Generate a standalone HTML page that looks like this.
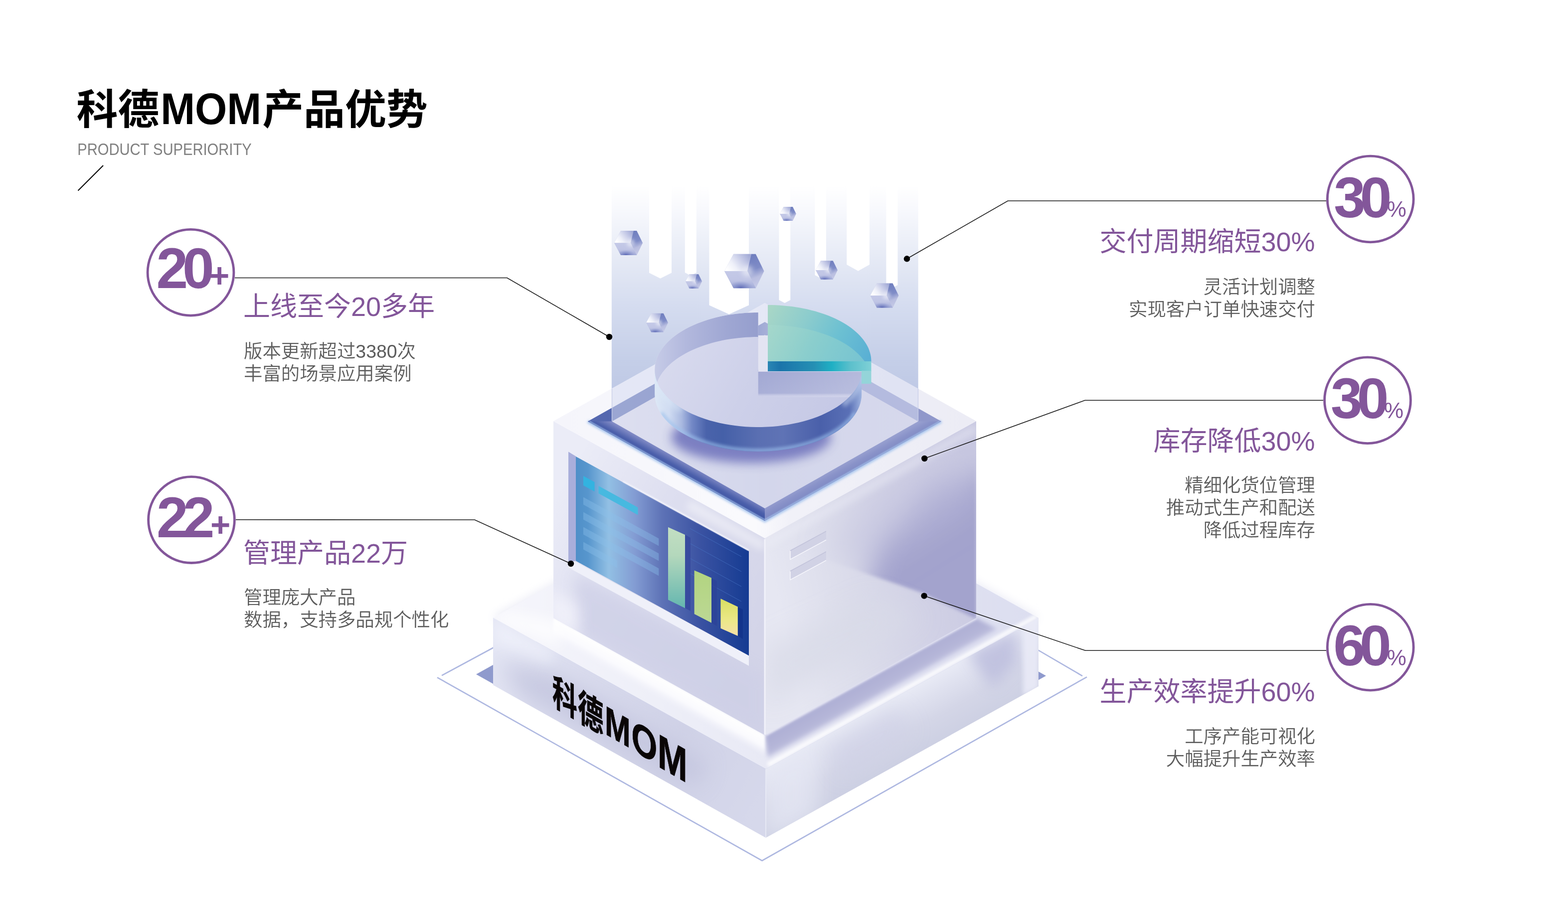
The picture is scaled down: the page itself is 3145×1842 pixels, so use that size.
<!DOCTYPE html>
<html lang="zh-CN">
<head>
<meta charset="utf-8">
<title>科德MOM产品优势</title>
<style>
html,body{margin:0;padding:0;background:#fff;}
body{width:3145px;height:1842px;overflow:hidden;font-family:"Liberation Sans","Noto Sans CJK SC",sans-serif;}
svg{display:block;position:absolute;left:0;top:0;will-change:transform;}
svg text{font-family:"Liberation Sans","Noto Sans CJK SC",sans-serif;}
</style>
</head>
<body>
<svg width="3145" height="1842" viewBox="0 0 3145 1842">
<defs><filter id="b1" x="-60%" y="-60%" width="220%" height="220%"><feGaussianBlur stdDeviation="1"/></filter><filter id="b2" x="-60%" y="-60%" width="220%" height="220%"><feGaussianBlur stdDeviation="2"/></filter><filter id="b3" x="-60%" y="-60%" width="220%" height="220%"><feGaussianBlur stdDeviation="3"/></filter><filter id="b4" x="-60%" y="-60%" width="220%" height="220%"><feGaussianBlur stdDeviation="4"/></filter><filter id="b6" x="-60%" y="-60%" width="220%" height="220%"><feGaussianBlur stdDeviation="6"/></filter><filter id="b8" x="-60%" y="-60%" width="220%" height="220%"><feGaussianBlur stdDeviation="8"/></filter><filter id="b10" x="-60%" y="-60%" width="220%" height="220%"><feGaussianBlur stdDeviation="10"/></filter><filter id="b14" x="-60%" y="-60%" width="220%" height="220%"><feGaussianBlur stdDeviation="14"/></filter><filter id="b20" x="-60%" y="-60%" width="220%" height="220%"><feGaussianBlur stdDeviation="20"/></filter><filter id="b25" x="-60%" y="-60%" width="220%" height="220%"><feGaussianBlur stdDeviation="25"/></filter><filter id="b35" x="-60%" y="-60%" width="220%" height="220%"><feGaussianBlur stdDeviation="35"/></filter><linearGradient id="gBaseTop" gradientUnits="userSpaceOnUse" x1="989" y1="1239" x2="2083" y2="1240"><stop offset="0" stop-color="#f6f6fc"/><stop offset="0.3" stop-color="#eeeff8"/><stop offset="0.7" stop-color="#e2e3f2"/><stop offset="1" stop-color="#dcdef0"/></linearGradient><clipPath id="cBaseTop"><polygon points="989.0,1239.5 1536.0,936.0 2083.0,1240.0 1536.0,1543.0"/></clipPath><linearGradient id="gShR" gradientUnits="userSpaceOnUse" x1="1746" y1="1357" x2="1774" y2="1407"><stop offset="0" stop-color="#adaed4"/><stop offset="0.55" stop-color="#b6b7d9"/><stop offset="1" stop-color="#d9daee"/></linearGradient><linearGradient id="gHiL" gradientUnits="userSpaceOnUse" x1="1322" y1="1357.5" x2="1303.6" y2="1390.7"><stop offset="0" stop-color="#ffffff" stop-opacity="1"/><stop offset="0.55" stop-color="#fbfbfe" stop-opacity="0.95"/><stop offset="1" stop-color="#f4f4fb" stop-opacity="0"/></linearGradient><linearGradient id="gBaseL" gradientUnits="userSpaceOnUse" x1="989" y1="1300" x2="1536" y2="1620"><stop offset="0" stop-color="#e4e6f4"/><stop offset="0.3" stop-color="#d9dbed"/><stop offset="0.65" stop-color="#d0d2e7"/><stop offset="1" stop-color="#d6d8eb"/></linearGradient><clipPath id="cBaseL"><polygon points="989.0,1239.5 1536.0,1543.0 1536.0,1681.0 989.0,1374.5"/></clipPath><linearGradient id="gBaseR" gradientUnits="userSpaceOnUse" x1="1800" y1="1397" x2="1858.5" y2="1502.6"><stop offset="0" stop-color="#e8eaf5"/><stop offset="0.25" stop-color="#dfe1ef"/><stop offset="0.6" stop-color="#d4d6e7"/><stop offset="1" stop-color="#cdd0e3"/></linearGradient><clipPath id="cBaseR"><polygon points="1536.0,1543.0 2083.0,1240.0 2083.0,1377.0 1536.0,1681.0"/></clipPath><linearGradient id="gBoxL" gradientUnits="userSpaceOnUse" x1="1110" y1="1000" x2="1534" y2="1250"><stop offset="0" stop-color="#ebecf7"/><stop offset="0.4" stop-color="#dedff0"/><stop offset="1" stop-color="#d3d4e8"/></linearGradient><clipPath id="cBoxL"><polygon points="1110.0,845.0 1534.0,1080.0 1534.0,1475.0 1110.0,1240.0"/></clipPath><linearGradient id="gBoxR" gradientUnits="userSpaceOnUse" x1="1534" y1="1100" x2="1958" y2="1000"><stop offset="0" stop-color="#e6e7f2"/><stop offset="0.3" stop-color="#dcddeb"/><stop offset="0.7" stop-color="#d0d0e5"/><stop offset="1" stop-color="#c8c8e1"/></linearGradient><clipPath id="cBoxR"><polygon points="1534.0,1080.0 1958.0,845.0 1958.0,1240.0 1534.0,1475.0"/></clipPath><clipPath id="cWedge"><polygon points="1534.0,1040.0 1958.0,805.0 1958.0,1242.0 1851.0,1190.0 1656.0,1123.0 1534.0,1098.0"/></clipPath><linearGradient id="gScr" gradientUnits="userSpaceOnUse" x1="1155" y1="0" x2="1502" y2="0"><stop offset="0" stop-color="#4f8fc8"/><stop offset="0.07" stop-color="#5796cd"/><stop offset="0.19" stop-color="#92c0e4"/><stop offset="0.34" stop-color="#839cd3"/><stop offset="0.5" stop-color="#5d72b6"/><stop offset="0.72" stop-color="#3a52a2"/><stop offset="1" stop-color="#153b92"/></linearGradient><linearGradient id="gBar1" gradientUnits="userSpaceOnUse" x1="0" y1="1060" x2="0" y2="1215"><stop offset="0" stop-color="#c2dec2"/><stop offset="0.35" stop-color="#b4d8bc"/><stop offset="1" stop-color="#68b8b0"/></linearGradient><linearGradient id="gBar2" gradientUnits="userSpaceOnUse" x1="0" y1="1145" x2="0" y2="1250"><stop offset="0" stop-color="#b2d480"/><stop offset="1" stop-color="#bcd894"/></linearGradient><linearGradient id="gBar3" gradientUnits="userSpaceOnUse" x1="0" y1="1200" x2="0" y2="1276"><stop offset="0" stop-color="#d8de60"/><stop offset="0.6" stop-color="#ece888"/><stop offset="1" stop-color="#f4e0a8"/></linearGradient><linearGradient id="gBeam" gradientUnits="userSpaceOnUse" x1="0" y1="372" x2="0" y2="792"><stop offset="0" stop-color="#ffffff"/><stop offset="0.11" stop-color="#f8f9fd"/><stop offset="0.24" stop-color="#eef1f9"/><stop offset="0.4" stop-color="#e2e7f4"/><stop offset="0.56" stop-color="#d6ddf0"/><stop offset="0.83" stop-color="#c5cfe8"/><stop offset="1" stop-color="#bec8e5"/></linearGradient><linearGradient id="gTop" gradientUnits="userSpaceOnUse" x1="1110" y1="845" x2="1958" y2="845"><stop offset="0" stop-color="#f5f5fb"/><stop offset="0.48" stop-color="#fafafd"/><stop offset="0.56" stop-color="#f1f1f8"/><stop offset="1" stop-color="#ececf5"/></linearGradient><clipPath id="cTopFace"><polygon points="1110.0,845.0 1534.0,608.0 1958.0,845.0 1534.0,1080.0"/></clipPath><linearGradient id="gRim" gradientUnits="userSpaceOnUse" x1="1179" y1="845" x2="1888" y2="845"><stop offset="0" stop-color="#5669b0"/><stop offset="0.46" stop-color="#4a5da9"/><stop offset="0.54" stop-color="#8890c6"/><stop offset="1" stop-color="#9098cb"/></linearGradient><linearGradient id="gRimFL" gradientUnits="userSpaceOnUse" x1="1356" y1="945" x2="1368" y2="923"><stop offset="0" stop-color="#3f55a4"/><stop offset="0.35" stop-color="#4c60ab"/><stop offset="1" stop-color="#848dc7"/></linearGradient><linearGradient id="gRimFR" gradientUnits="userSpaceOnUse" x1="1711" y1="945" x2="1699" y2="923"><stop offset="0" stop-color="#7f8ac4"/><stop offset="0.5" stop-color="#8a93c9"/><stop offset="1" stop-color="#9aa2d1"/></linearGradient><linearGradient id="gFloor" gradientUnits="userSpaceOnUse" x1="1227" y1="845" x2="1841" y2="845"><stop offset="0" stop-color="#dddff0"/><stop offset="0.5" stop-color="#d3d6eb"/><stop offset="1" stop-color="#d6d8ec"/></linearGradient><clipPath id="cFloor"><polygon points="1227.5,845.5 1534.0,672.0 1841.5,845.5 1534.0,1020.0"/></clipPath><linearGradient id="gWall" gradientUnits="userSpaceOnUse" x1="1313.25" y1="0" x2="1728.25" y2="0"><stop offset="0" stop-color="#dde8f6"/><stop offset="0.07" stop-color="#d0dcf2"/><stop offset="0.13" stop-color="#a9b9e0"/><stop offset="0.18" stop-color="#7388c6"/><stop offset="0.25" stop-color="#4a63ab"/><stop offset="0.33" stop-color="#4560a8"/><stop offset="0.5" stop-color="#5a6fb2"/><stop offset="0.62" stop-color="#5f73b5"/><stop offset="0.8" stop-color="#4a60aa"/><stop offset="0.94" stop-color="#5a70b6"/><stop offset="1" stop-color="#9fb4e0"/></linearGradient><clipPath id="cWall"><path d="M1313.2,742.0 L1313.2,791.0 L1313.5,797.0 L1314.4,803.0 L1315.8,809.0 L1317.8,814.9 L1320.3,820.8 L1323.4,826.5 L1327.0,832.2 L1331.2,837.8 L1335.9,843.2 L1341.0,848.5 L1346.7,853.6 L1352.9,858.6 L1359.5,863.4 L1366.5,868.0 L1374.0,872.3 L1381.9,876.5 L1390.2,880.4 L1398.8,884.0 L1407.7,887.4 L1417.0,890.6 L1426.5,893.5 L1436.4,896.1 L1446.4,898.4 L1456.6,900.4 L1467.0,902.1 L1477.6,903.5 L1488.3,904.6 L1499.1,905.4 L1509.9,905.8 L1520.8,906.0 L1531.6,905.8 L1542.4,905.4 L1553.2,904.6 L1563.9,903.5 L1574.5,902.1 L1584.9,900.4 L1595.1,898.4 L1605.1,896.1 L1615.0,893.5 L1624.5,890.6 L1633.8,887.4 L1642.7,884.0 L1651.3,880.4 L1659.6,876.5 L1667.5,872.3 L1675.0,868.0 L1682.0,863.4 L1688.6,858.6 L1694.8,853.6 L1700.5,848.5 L1705.6,843.2 L1710.3,837.8 L1714.5,832.2 L1718.1,826.5 L1721.2,820.8 L1723.7,814.9 L1725.7,809.0 L1727.1,803.0 L1728.0,797.0 L1728.2,791.0 L1728.2,742.0Z"/></clipPath><linearGradient id="gPieTop" gradientUnits="userSpaceOnUse" x1="1313.25" y1="627" x2="1728.25" y2="857"><stop offset="0" stop-color="#dcdef0"/><stop offset="0.5" stop-color="#cdd0e9"/><stop offset="1" stop-color="#c3c6e4"/></linearGradient><clipPath id="cPieTop"><path d="M1520.8,745.0 L1728.0,745.0 L1728.2,745.0 L1727.6,751.0 L1726.5,756.9 L1724.8,762.9 L1722.6,768.7 L1719.8,774.5 L1716.5,780.2 L1712.6,785.8 L1708.2,791.3 L1703.4,796.6 L1698.0,801.8 L1692.1,806.8 L1685.8,811.7 L1679.0,816.4 L1671.8,820.8 L1664.2,825.1 L1656.2,829.1 L1647.9,832.9 L1639.2,836.4 L1630.1,839.7 L1620.8,842.7 L1611.2,845.5 L1601.4,848.0 L1591.3,850.1 L1581.1,852.0 L1570.7,853.6 L1560.1,854.9 L1549.4,855.9 L1538.7,856.6 L1527.9,856.9 L1517.1,857.0 L1506.3,856.7 L1495.6,856.2 L1484.9,855.3 L1474.3,854.1 L1463.8,852.6 L1453.5,850.8 L1443.4,848.7 L1433.5,846.3 L1423.8,843.7 L1414.4,840.7 L1405.3,837.5 L1396.5,834.1 L1388.0,830.4 L1379.9,826.4 L1372.1,822.2 L1364.8,817.8 L1357.9,813.2 L1351.4,808.5 L1345.4,803.5 L1339.9,798.3 L1334.8,793.0 L1330.3,787.6 L1326.2,782.1 L1322.7,776.4 L1319.8,770.6 L1317.4,764.8 L1315.5,758.9 L1314.2,753.0 L1313.4,747.0 L1313.3,741.0 L1313.6,735.0 L1314.6,729.0 L1316.1,723.1 L1318.1,717.2 L1320.7,711.4 L1323.9,705.7 L1327.5,700.1 L1331.7,694.6 L1336.4,689.2 L1341.7,683.9 L1347.4,678.8 L1353.5,673.9 L1360.1,669.2 L1367.2,664.7 L1374.7,660.3 L1382.5,656.2 L1390.8,652.4 L1399.4,648.7 L1408.3,645.4 L1417.5,642.2 L1427.0,639.4 L1436.8,636.8 L1446.8,634.6 L1457.0,632.6 L1467.3,630.9 L1477.8,629.5 L1488.5,628.4 L1499.2,627.6 L1510.0,627.2 L1520.8,627.0Z"/></clipPath><linearGradient id="gBand" gradientUnits="userSpaceOnUse" x1="1313.25" y1="0" x2="1520.75" y2="0"><stop offset="0" stop-color="#c6cbe7"/><stop offset="0.3" stop-color="#b2b8dd"/><stop offset="0.7" stop-color="#9fa7d3"/><stop offset="1" stop-color="#959ecd"/></linearGradient><linearGradient id="gCut" gradientUnits="userSpaceOnUse" x1="0" y1="745" x2="0" y2="795"><stop offset="0" stop-color="#a2a8d3"/><stop offset="0.88" stop-color="#a9afd7"/><stop offset="1" stop-color="#b8bcde" stop-opacity="0"/></linearGradient><linearGradient id="gCutX" gradientUnits="userSpaceOnUse" x1="1520.75" y1="0" x2="1728.25" y2="0"><stop offset="0" stop-color="#ffffff" stop-opacity="0"/><stop offset="1" stop-color="#ffffff" stop-opacity="0.2"/></linearGradient><linearGradient id="gTealFront" gradientUnits="userSpaceOnUse" x1="1540" y1="0" x2="1747.5" y2="0"><stop offset="0" stop-color="#2a86b4"/><stop offset="0.12" stop-color="#1b74aa"/><stop offset="0.45" stop-color="#2590b4"/><stop offset="0.62" stop-color="#1fb0c4"/><stop offset="0.8" stop-color="#5cc0cc"/><stop offset="1" stop-color="#7fd0d6"/></linearGradient><linearGradient id="gTealTop" gradientUnits="userSpaceOnUse" x1="1540" y1="612" x2="1747.5" y2="725"><stop offset="0" stop-color="#aad7c6"/><stop offset="0.35" stop-color="#8ccccd"/><stop offset="0.65" stop-color="#6cc0d2"/><stop offset="1" stop-color="#58aed4"/></linearGradient><linearGradient id="gTealIn" gradientUnits="userSpaceOnUse" x1="1540" y1="652" x2="1747.5" y2="765"><stop offset="0" stop-color="#a6d8cc"/><stop offset="0.4" stop-color="#8fd0cc"/><stop offset="1" stop-color="#7cc8d2"/></linearGradient><clipPath id="cTealTop"><path d="M1540.0,725.0 L1540.0,612.0 L1548.1,612.1 L1556.3,612.3 L1564.4,612.8 L1572.5,613.4 L1580.5,614.2 L1588.4,615.1 L1596.3,616.2 L1604.1,617.5 L1611.8,619.0 L1619.4,620.6 L1626.9,622.4 L1634.2,624.3 L1641.4,626.4 L1648.4,628.7 L1655.3,631.0 L1662.0,633.6 L1668.5,636.3 L1674.8,639.1 L1680.9,642.0 L1686.7,645.1 L1692.4,648.3 L1697.8,651.6 L1703.0,655.0 L1707.9,658.6 L1712.5,662.2 L1716.9,666.0 L1721.0,669.8 L1724.9,673.7 L1728.4,677.7 L1731.7,681.8 L1734.7,685.9 L1737.3,690.1 L1739.7,694.3 L1741.8,698.6 L1743.5,703.0 L1744.9,707.3 L1746.1,711.7 L1746.9,716.1 L1747.3,720.6 L1747.5,725.0Z"/></clipPath><linearGradient id="hTop" gradientUnits="objectBoundingBox" x1="0" y1="0.7" x2="1" y2="0.2"><stop offset="0" stop-color="#ffffff"/><stop offset="0.3" stop-color="#eef0f9"/><stop offset="0.7" stop-color="#c3c8e6"/><stop offset="1" stop-color="#a2aad6"/></linearGradient><linearGradient id="hRight" gradientUnits="objectBoundingBox" x1="0.3" y1="0" x2="0.5" y2="1"><stop offset="0" stop-color="#6f7ebe"/><stop offset="0.45" stop-color="#7f8cc7"/><stop offset="0.7" stop-color="#b9bee0"/><stop offset="1" stop-color="#c6cae7"/></linearGradient><linearGradient id="hBot" gradientUnits="objectBoundingBox" x1="0" y1="0" x2="0" y2="1"><stop offset="0" stop-color="#c4c9e7"/><stop offset="0.5" stop-color="#c0c5e5"/><stop offset="1" stop-color="#a3acd8"/></linearGradient><radialGradient id="hGlow" gradientUnits="objectBoundingBox" cx="0.52" cy="1.0" r="0.42"><stop offset="0" stop-color="#5663b2" stop-opacity="0.95"/><stop offset="0.5" stop-color="#6b78be" stop-opacity="0.5"/><stop offset="1" stop-color="#7d89c8" stop-opacity="0"/></radialGradient><g id="hex"><polygon points="-50,0 -27,-43 29,-43 50,0 29,43 -27,43" fill="#c4c9e6"/><polygon points="-50,0 -27,-43 18,-43 8,0" fill="url(#hTop)"/><polygon points="8,0 18,-43 29,-43 50,0 29,43" fill="url(#hRight)"/><polygon points="-50,0 8,0 29,43 -27,43" fill="url(#hBot)"/><polygon points="-50,0 8,0 29,43 -27,43" fill="url(#hGlow)"/><circle cx="8" cy="0" r="14" fill="#f4f5fb" opacity="0.55" filter="url(#b6)"/></g></defs>
<g id="illustration">
<polygon points="955.0,1353.0 1527.0,1035.0 2098.0,1356.0 1527.0,1674.0" fill="#8f9acd" />
<polyline points="877.0,1359.3 1528.5,1727.0 2180.0,1358.3" fill="none" stroke="#adb7e0" stroke-width="2.6"/>
<polyline points="886.0,1355.4 1010.0,1288.5" fill="none" stroke="#adb7e0" stroke-width="2.6"/>
<polyline points="2171.0,1356.3 2060.0,1291.5" fill="none" stroke="#adb7e0" stroke-width="2.6"/>
<polygon points="989.0,1239.5 1536.0,936.0 2083.0,1240.0 1536.0,1543.0" fill="#e4e5f3" filter="url(#b10)" opacity="0.9"/>
<polygon points="989.0,1239.5 1536.0,936.0 2083.0,1240.0 1536.0,1543.0" fill="url(#gBaseTop)" />
<g clip-path="url(#cBaseTop)"><polygon points="1534.0,1475.0 1958.0,1240.0 2000.0,1262.0 1540.0,1520.0" fill="url(#gShR)" filter="url(#b4)"/><line x1="1536" y1="1474" x2="1958" y2="1240" stroke="#f2f2fa" stroke-width="4" opacity="0.9" filter="url(#b2)"/><polygon points="1110.0,1240.0 1534.0,1475.0 1534.0,1521.0 1110.0,1286.0" fill="url(#gHiL)" filter="url(#b2)"/><polygon points="1000.0,1225.0 1125.0,1246.0 1125.0,1300.0 1000.0,1250.0" fill="#ffffff" filter="url(#b14)" opacity="0.7"/><line x1="1540" y1="1535" x2="2080" y2="1236" stroke="#ffffff" stroke-width="9" opacity="0.85" filter="url(#b3)"/></g>
<polygon points="989.0,1239.5 1536.0,1543.0 1536.0,1681.0 989.0,1374.5" fill="url(#gBaseL)" />
<g clip-path="url(#cBaseL)"><polygon points="1000.0,1330.0 1110.0,1350.0 1420.0,1530.0 1400.0,1580.0 1050.0,1400.0" fill="#c3c5de" filter="url(#b20)" opacity="0.8"/><polygon points="989.0,1240.0 1110.0,1306.0 1110.0,1330.0 989.0,1290.0" fill="#eef0fa" filter="url(#b14)" opacity="0.9"/></g>
<polygon points="1536.0,1543.0 2083.0,1240.0 2083.0,1377.0 1536.0,1681.0" fill="url(#gBaseR)" />
<g clip-path="url(#cBaseR)"><polygon points="1536.0,1545.0 1640.0,1490.0 1640.0,1640.0 1536.0,1690.0" fill="#e6e8f4" filter="url(#b20)" opacity="0.7"/><polygon points="1660.0,1500.0 1800.0,1420.0 1830.0,1470.0 1690.0,1560.0" fill="#cdcfe5" filter="url(#b20)" opacity="0.6"/><polygon points="1940.0,1310.0 2040.0,1262.0 2040.0,1330.0 1990.0,1380.0" fill="#babbdc" filter="url(#b14)" opacity="0.8"/><polygon points="2052.0,1250.0 2083.0,1234.0 2083.0,1380.0 2052.0,1396.0" fill="#e9eaf7" filter="url(#b4)" opacity="0.9"/></g>
<line x1="1536" y1="1543" x2="1536" y2="1681" stroke="#e8eaf6" stroke-width="2" opacity="0.9"/>
<polygon points="1110.0,845.0 1534.0,1080.0 1534.0,1475.0 1110.0,1240.0" fill="url(#gBoxL)" />
<g clip-path="url(#cBoxL)"><line x1="1380" y1="1012" x2="1534" y2="1097" stroke="#ffffff" stroke-width="18" opacity="0.45" filter="url(#b8)"/><polygon points="1155.0,1150.0 1534.0,1358.0 1534.0,1480.0 1155.0,1270.0" fill="#cdcfe6" filter="url(#b14)" opacity="0.75"/><polygon points="1100.0,1180.0 1160.0,1215.0 1160.0,1280.0 1100.0,1250.0" fill="#f3f3fb" filter="url(#b14)" opacity="0.8"/></g>
<polygon points="1534.0,1080.0 1958.0,845.0 1958.0,1240.0 1534.0,1475.0" fill="url(#gBoxR)" />
<g clip-path="url(#cBoxR)"><g filter="url(#b3)"><g clip-path="url(#cWedge)"><polygon points="2030.0,930.0 2030.0,1330.0 1900.0,1280.0 1735.0,1195.0 1760.0,1090.0 1870.0,980.0" fill="#a3a3cd" filter="url(#b25)"/><polygon points="1660.0,1100.0 1760.0,980.0 1960.0,900.0 1960.0,1000.0 1720.0,1150.0" fill="#c2c2de" filter="url(#b35)" opacity="0.55"/></g></g><line x1="1534" y1="1094" x2="1958" y2="859" stroke="#ecedf6" stroke-width="16" opacity="0.55" filter="url(#b8)"/><polygon points="1534.0,1300.0 1750.0,1200.0 1850.0,1240.0 1534.0,1420.0" fill="#d8dae7" filter="url(#b25)" opacity="0.7"/></g>
<line x1="1534" y1="1082" x2="1534" y2="1474" stroke="#f4f4fb" stroke-width="3" opacity="0.9"/>
<polygon points="1140.0,1119.8 1502.0,1315.5 1502.0,1336.0 1140.0,1138.8" fill="#eff0f9" />
<polygon points="1140.0,906.5 1155.0,915.5 1155.0,1125.5 1140.0,1128.0" fill="#a9aedb" />
<polygon points="1155.0,916.0 1502.0,1106.0 1502.0,1315.5 1155.0,1125.5" fill="url(#gScr)" />
<line x1="1250" y1="966.0" x2="1502" y2="1104.0" stroke="#f4f5fc" stroke-width="3" opacity="0.85" filter="url(#b1)"/>
<polygon points="1170.0,955.0 1192.5,967.3 1192.5,986.3 1170.0,974.0" fill="#33b3e0" />
<polygon points="1200.5,975.0 1279.5,1018.3 1279.5,1033.3 1200.5,990.0" fill="#47b9e0" />
<polygon points="1170.0,997.5 1321.3,1080.4 1321.3,1095.4 1170.0,1012.5" fill="#8cc0ea" opacity="0.38"/>
<polygon points="1170.0,1027.5 1321.3,1110.4 1321.3,1125.4 1170.0,1042.5" fill="#8cc0ea" opacity="0.38"/>
<polygon points="1170.0,1057.5 1321.3,1140.4 1321.3,1155.4 1170.0,1072.5" fill="#8cc0ea" opacity="0.38"/>
<polygon points="1170.0,1087.5 1238.0,1124.8 1238.0,1139.8 1170.0,1102.5" fill="#8cc0ea" opacity="0.38"/>
<line x1="1384" y1="1060.4" x2="1487" y2="1116.8" stroke="#4a78c8" stroke-width="1" opacity="0.6"/>
<line x1="1384" y1="1090.4" x2="1487" y2="1146.8" stroke="#4a78c8" stroke-width="1" opacity="0.6"/>
<line x1="1384" y1="1120.4" x2="1487" y2="1176.8" stroke="#4a78c8" stroke-width="1" opacity="0.6"/>
<line x1="1384" y1="1150.4" x2="1487" y2="1206.8" stroke="#4a78c8" stroke-width="1" opacity="0.6"/>
<polygon points="1374.0,1073.0 1385.0,1079.0 1385.0,1226.0 1374.0,1220.0" fill="#34479c" opacity="0.8"/>
<polygon points="1427.0,1160.0 1438.0,1166.0 1438.0,1256.0 1427.0,1250.0" fill="#2c4298" opacity="0.8"/>
<polygon points="1480.0,1218.0 1490.0,1223.0 1490.0,1282.0 1480.0,1276.0" fill="#12328a" opacity="0.8"/>
<polygon points="1340.0,1057.7 1374.0,1073.0 1374.0,1220.3 1340.0,1203.5" fill="url(#gBar1)" />
<polygon points="1392.6,1144.5 1427.0,1159.5 1427.0,1249.8 1392.6,1232.0" fill="url(#gBar2)" />
<polygon points="1445.4,1201.3 1479.8,1217.6 1479.8,1276.0 1445.4,1260.8" fill="url(#gBar3)" />
<polygon points="1585.0,1105.0 1657.0,1066.0 1657.0,1083.5 1585.0,1122.5" fill="#d1d2e5" />
<polyline points="1585.0,1105.0 1585.0,1122.5 1657.0,1083.5" fill="none" stroke="#f6f6fc" stroke-width="1.6"/>
<polyline points="1585.0,1105.0 1657.0,1066.0" fill="none" stroke="#c2c3da" stroke-width="1.6"/>
<polygon points="1585.0,1146.0 1657.0,1107.0 1657.0,1124.5 1585.0,1163.5" fill="#d1d2e5" />
<polyline points="1585.0,1146.0 1585.0,1163.5 1657.0,1124.5" fill="none" stroke="#f6f6fc" stroke-width="1.6"/>
<polyline points="1585.0,1146.0 1657.0,1107.0" fill="none" stroke="#c2c3da" stroke-width="1.6"/>
<rect x="1226.8" y="372" width="614.9" height="474" fill="url(#gBeam)"/>
<polygon points="1302.0,360.0 1347.0,360.0 1347.0,547.5 1324.5,558.8 1302.0,547.5" fill="#fff" />
<polygon points="1373.8,360.0 1396.8,360.0 1396.8,547.0 1385.3,553.0 1373.8,547.0" fill="#fff" />
<polygon points="1422.5,360.0 1502.0,360.0 1502.0,612.5 1462.2,630.5 1422.5,612.5" fill="#fff" />
<polygon points="1562.5,360.0 1585.3,360.0 1585.3,602.0 1573.9,608.0 1562.5,602.0" fill="#fff" />
<polygon points="1634.5,360.0 1657.0,360.0 1657.0,552.0 1645.8,558.0 1634.5,552.0" fill="#fff" />
<polygon points="1698.3,360.0 1744.0,360.0 1744.0,531.0 1721.2,543.8 1698.3,531.0" fill="#fff" />
<polygon points="1777.5,360.0 1800.5,360.0 1800.5,572.0 1789.0,578.0 1777.5,572.0" fill="#fff" />
<polygon points="1110.0,845.0 1534.0,608.0 1958.0,845.0 1534.0,1080.0" fill="url(#gTop)" />
<polyline points="1179.0,845.5 1534.0,1045.0 1888.0,845.5" fill="none" stroke="#a9c6ee" stroke-width="7" filter="url(#b2)" opacity="0.9"/>
<polygon points="1179.0,845.5 1534.0,646.0 1888.0,845.5 1534.0,1045.0" fill="url(#gRim)" />
<polygon points="1179.0,845.5 1534.0,1045.0 1534.0,1020.0 1227.5,845.5" fill="url(#gRimFL)" />
<polygon points="1534.0,1045.0 1888.0,845.5 1841.5,845.5 1534.0,1020.0" fill="url(#gRimFR)" />
<polyline points="1182.0,845.5 1534.0,1043.0 1885.0,845.5" fill="none" stroke="#a4c2ec" stroke-width="2.5" opacity="0.85" filter="url(#b1)"/>
<g clip-path="url(#cTopFace)"><polygon points="1227.5,600.0 1841.5,600.0 1841.5,845.5 1534.0,1020.0 1227.5,845.5" fill="#d5daf0" opacity="0.55"/></g>
<polygon points="1227.5,845.5 1534.0,672.0 1841.5,845.5 1534.0,1020.0" fill="url(#gFloor)" />
<line x1="1227.5" y1="780" x2="1227.5" y2="845" stroke="#c9cfe8" stroke-width="1.5" opacity="0.9"/>
<line x1="1841.5" y1="780" x2="1841.5" y2="845" stroke="#c9cfe8" stroke-width="1.5" opacity="0.9"/>
<g clip-path="url(#cFloor)"><ellipse cx="1506.75" cy="877" rx="160" ry="52" fill="#7276bd" opacity="0.9" filter="url(#b10)"/></g>
<path d="M1313.2,742.0 L1313.2,791.0 L1313.5,797.0 L1314.4,803.0 L1315.8,809.0 L1317.8,814.9 L1320.3,820.8 L1323.4,826.5 L1327.0,832.2 L1331.2,837.8 L1335.9,843.2 L1341.0,848.5 L1346.7,853.6 L1352.9,858.6 L1359.5,863.4 L1366.5,868.0 L1374.0,872.3 L1381.9,876.5 L1390.2,880.4 L1398.8,884.0 L1407.7,887.4 L1417.0,890.6 L1426.5,893.5 L1436.4,896.1 L1446.4,898.4 L1456.6,900.4 L1467.0,902.1 L1477.6,903.5 L1488.3,904.6 L1499.1,905.4 L1509.9,905.8 L1520.8,906.0 L1531.6,905.8 L1542.4,905.4 L1553.2,904.6 L1563.9,903.5 L1574.5,902.1 L1584.9,900.4 L1595.1,898.4 L1605.1,896.1 L1615.0,893.5 L1624.5,890.6 L1633.8,887.4 L1642.7,884.0 L1651.3,880.4 L1659.6,876.5 L1667.5,872.3 L1675.0,868.0 L1682.0,863.4 L1688.6,858.6 L1694.8,853.6 L1700.5,848.5 L1705.6,843.2 L1710.3,837.8 L1714.5,832.2 L1718.1,826.5 L1721.2,820.8 L1723.7,814.9 L1725.7,809.0 L1727.1,803.0 L1728.0,797.0 L1728.2,791.0 L1728.2,742.0Z" fill="url(#gWall)"/>
<g clip-path="url(#cWall)"><path d="M1326.7,828.3 L1329.7,832.7 L1333.1,837.0 L1336.8,841.2 L1340.7,845.3 L1345.0,849.4 L1349.6,853.3 L1354.4,857.1 L1359.5,860.9 L1364.9,864.4 L1370.5,867.9 L1376.4,871.3 L1382.6,874.5 L1388.9,877.5 L1395.5,880.4 L1402.3,883.2 L1409.3,885.8 L1416.5,888.3 L1423.8,890.5 L1431.3,892.7 L1439.0,894.6 L1446.7,896.4 L1454.7,898.0 L1462.7,899.4 L1470.8,900.6 L1479.0,901.6 L1487.3,902.5 L1495.6,903.1 L1503.9,903.6 L1512.3,903.9 L1520.8,904.0 L1529.2,903.9 L1537.6,903.6 L1545.9,903.1 L1554.2,902.5 L1562.5,901.6 L1570.7,900.6 L1578.8,899.4 L1586.8,898.0 L1594.8,896.4 L1602.5,894.6 L1610.2,892.7 L1617.7,890.5 L1625.0,888.3 L1632.2,885.8 L1639.2,883.2 L1646.0,880.4 L1652.6,877.5 L1658.9,874.5 L1665.1,871.3 L1671.0,867.9 L1676.6,864.4 L1682.0,860.9 L1687.1,857.1 L1691.9,853.3 L1696.5,849.4 L1700.8,845.3 L1704.7,841.2 L1708.4,837.0 L1711.8,832.7 L1714.8,828.3" fill="none" stroke="#9cc0ec" stroke-width="7" opacity="0.75" filter="url(#b3)"/><path d="M1313.2,745.0 L1313.3,747.8 L1313.5,750.6 L1313.8,753.4 L1314.2,756.2 L1314.8,759.0 L1315.5,761.8 L1316.3,764.6 L1317.2,767.3 L1318.2,770.1 L1319.4,772.8 L1320.7,775.5 L1322.1,778.2 L1323.6,780.9 L1325.3,783.6 L1327.0,786.2 L1328.9,788.8 L1330.9,791.4 L1333.0,794.0 L1335.2,796.5 L1337.5,799.0 L1340.0,801.5 L1342.5,803.9 L1345.2,806.3 L1347.9,808.6 L1350.8,811.0 L1353.7,813.2 L1356.8,815.5 L1359.9,817.7 L1363.2,819.8 L1366.5,822.0" fill="none" stroke="#dbe8f6" stroke-width="12" opacity="0.6" filter="url(#b6)"/><path d="M1690.7,812.0 L1693.0,810.1 L1695.2,808.3 L1697.3,806.4 L1699.4,804.5 L1701.3,802.6 L1703.3,800.7 L1705.1,798.7 L1706.9,796.8 L1708.7,794.8 L1710.3,792.8 L1711.9,790.7 L1713.4,788.7 L1714.9,786.6 L1716.2,784.6 L1717.5,782.5 L1718.8,780.4 L1719.9,778.3 L1721.0,776.2 L1722.0,774.0 L1722.9,771.9 L1723.8,769.7 L1724.6,767.5 L1725.3,765.4 L1725.9,763.2 L1726.5,761.0 L1727.0,758.8 L1727.4,756.6 L1727.7,754.4 L1727.9,752.2 L1728.1,750.0" fill="none" stroke="#c4d4ee" stroke-width="12" opacity="0.6" filter="url(#b4)"/></g>
<path d="M1520.8,745.0 L1728.0,745.0 L1728.2,745.0 L1727.6,751.0 L1726.5,756.9 L1724.8,762.9 L1722.6,768.7 L1719.8,774.5 L1716.5,780.2 L1712.6,785.8 L1708.2,791.3 L1703.4,796.6 L1698.0,801.8 L1692.1,806.8 L1685.8,811.7 L1679.0,816.4 L1671.8,820.8 L1664.2,825.1 L1656.2,829.1 L1647.9,832.9 L1639.2,836.4 L1630.1,839.7 L1620.8,842.7 L1611.2,845.5 L1601.4,848.0 L1591.3,850.1 L1581.1,852.0 L1570.7,853.6 L1560.1,854.9 L1549.4,855.9 L1538.7,856.6 L1527.9,856.9 L1517.1,857.0 L1506.3,856.7 L1495.6,856.2 L1484.9,855.3 L1474.3,854.1 L1463.8,852.6 L1453.5,850.8 L1443.4,848.7 L1433.5,846.3 L1423.8,843.7 L1414.4,840.7 L1405.3,837.5 L1396.5,834.1 L1388.0,830.4 L1379.9,826.4 L1372.1,822.2 L1364.8,817.8 L1357.9,813.2 L1351.4,808.5 L1345.4,803.5 L1339.9,798.3 L1334.8,793.0 L1330.3,787.6 L1326.2,782.1 L1322.7,776.4 L1319.8,770.6 L1317.4,764.8 L1315.5,758.9 L1314.2,753.0 L1313.4,747.0 L1313.3,741.0 L1313.6,735.0 L1314.6,729.0 L1316.1,723.1 L1318.1,717.2 L1320.7,711.4 L1323.9,705.7 L1327.5,700.1 L1331.7,694.6 L1336.4,689.2 L1341.7,683.9 L1347.4,678.8 L1353.5,673.9 L1360.1,669.2 L1367.2,664.7 L1374.7,660.3 L1382.5,656.2 L1390.8,652.4 L1399.4,648.7 L1408.3,645.4 L1417.5,642.2 L1427.0,639.4 L1436.8,636.8 L1446.8,634.6 L1457.0,632.6 L1467.3,630.9 L1477.8,629.5 L1488.5,628.4 L1499.2,627.6 L1510.0,627.2 L1520.8,627.0Z" fill="url(#gPieTop)"/>
<path d="M1313.2,742.0 L1313.4,737.5 L1313.9,733.0 L1314.7,728.5 L1315.8,724.0 L1317.2,719.6 L1319.0,715.2 L1321.0,710.8 L1323.4,706.5 L1326.1,702.2 L1329.0,698.0 L1332.3,693.9 L1335.9,689.8 L1339.7,685.8 L1343.8,681.9 L1348.2,678.1 L1352.9,674.4 L1357.8,670.8 L1363.0,667.3 L1368.4,663.9 L1374.0,660.7 L1379.9,657.6 L1386.0,654.6 L1392.3,651.7 L1398.8,649.0 L1405.5,646.4 L1412.3,643.9 L1419.4,641.7 L1426.5,639.5 L1433.9,637.6 L1441.3,635.8 L1448.9,634.1 L1456.6,632.6 L1464.4,631.3 L1472.3,630.2 L1480.3,629.2 L1488.3,628.4 L1496.4,627.8 L1504.5,627.4 L1512.6,627.1 L1520.8,627.0 L1520.8,676.0 L1512.6,676.1 L1504.5,676.4 L1496.4,676.8 L1488.3,677.4 L1480.3,678.2 L1472.3,679.2 L1464.4,680.3 L1456.6,681.6 L1448.9,683.1 L1441.3,684.8 L1433.9,686.6 L1426.5,688.5 L1419.4,690.7 L1412.3,692.9 L1405.5,695.4 L1398.8,698.0 L1392.3,700.7 L1386.0,703.6 L1379.9,706.6 L1374.0,709.7 L1368.4,712.9 L1363.0,716.3 L1357.8,719.8 L1352.9,723.4 L1348.2,727.1 L1343.8,730.9 L1339.7,734.8 L1335.9,738.8 L1332.3,742.9 L1329.0,747.0 L1326.1,751.2 L1323.4,755.5 L1321.0,759.8 L1319.0,764.2 L1317.2,768.6 L1315.8,773.0 L1314.7,777.5 L1313.9,782.0 L1313.4,786.5 L1313.2,791.0Z" fill="url(#gBand)" clip-path="url(#cPieTop)"/>
<g clip-path="url(#cPieTop)"><rect x="1520.75" y="745" width="207.5" height="52" fill="url(#gCut)"/><rect x="1520.75" y="745" width="207.5" height="52" fill="url(#gCutX)"/><rect x="1520.75" y="744.2" width="207.5" height="1.6" fill="#e2def0"/></g>
<rect x="1520.75" y="673" width="19.75" height="72" fill="#e3e4f2"/>
<rect x="1540" y="725" width="207.5" height="20" fill="url(#gTealFront)"/>
<path d="M1728.0,744.0 L1747.5,744.0 L1747.5,770.0 L1728.0,770.0Z" fill="#94d4d9"/>
<path d="M1540.0,725.0 L1540.0,612.0 L1548.1,612.1 L1556.3,612.3 L1564.4,612.8 L1572.5,613.4 L1580.5,614.2 L1588.4,615.1 L1596.3,616.2 L1604.1,617.5 L1611.8,619.0 L1619.4,620.6 L1626.9,622.4 L1634.2,624.3 L1641.4,626.4 L1648.4,628.7 L1655.3,631.0 L1662.0,633.6 L1668.5,636.3 L1674.8,639.1 L1680.9,642.0 L1686.7,645.1 L1692.4,648.3 L1697.8,651.6 L1703.0,655.0 L1707.9,658.6 L1712.5,662.2 L1716.9,666.0 L1721.0,669.8 L1724.9,673.7 L1728.4,677.7 L1731.7,681.8 L1734.7,685.9 L1737.3,690.1 L1739.7,694.3 L1741.8,698.6 L1743.5,703.0 L1744.9,707.3 L1746.1,711.7 L1746.9,716.1 L1747.3,720.6 L1747.5,725.0Z" fill="url(#gTealTop)"/>
<path d="M1540.0,765.0 L1540.0,652.0 L1548.1,652.1 L1556.3,652.3 L1564.4,652.8 L1572.5,653.4 L1580.5,654.2 L1588.4,655.1 L1596.3,656.2 L1604.1,657.5 L1611.8,659.0 L1619.4,660.6 L1626.9,662.4 L1634.2,664.3 L1641.4,666.4 L1648.4,668.7 L1655.3,671.0 L1662.0,673.6 L1668.5,676.3 L1674.8,679.1 L1680.9,682.0 L1686.7,685.1 L1692.4,688.3 L1697.8,691.6 L1703.0,695.0 L1707.9,698.6 L1712.5,702.2 L1716.9,706.0 L1721.0,709.8 L1724.9,713.7 L1728.4,717.7 L1731.7,721.8 L1734.7,725.9 L1737.3,730.1 L1739.7,734.3 L1741.8,738.6 L1743.5,743.0 L1744.9,747.3 L1746.1,751.7 L1746.9,756.1 L1747.3,760.6 L1747.5,765.0Z" fill="url(#gTealIn)" opacity="0.75" clip-path="url(#cTealTop)"/>
<use href="#hex" transform="translate(1260.5,487.5) scale(0.5700)"/>
<use href="#hex" transform="translate(1391.5,564.5) scale(0.3300)"/>
<use href="#hex" transform="translate(1492.7,544) scale(0.7950)"/>
<use href="#hex" transform="translate(1580.5,429) scale(0.3250)"/>
<use href="#hex" transform="translate(1658,542) scale(0.4380)"/>
<use href="#hex" transform="translate(1774,593) scale(0.5680)"/>
<use href="#hex" transform="translate(1318,647.6) scale(0.4380)"/>
<g transform="translate(1108,1415.5) skewY(30)" font-weight="700" fill="#0a0606" stroke="#0a0606" stroke-width="1"><text transform="scale(0.667,1)" x="0" y="-3.5" font-size="74.5">科<tspan x="76.5" y="-2" font-size="77">德</tspan></text><text transform="scale(0.755,1)" x="139" y="-4" font-size="82">M<tspan x="210" y="-3" font-size="88">O</tspan><tspan x="279.5" y="0" font-size="95">M</tspan></text></g>
</g>
<g id="leaders">
<polyline points="471,557.5 1017,557.5 1222,676" fill="none" stroke="#1a1a1a" stroke-width="1.6"/>
<circle cx="1222" cy="676" r="6.2" fill="#000"/>
<polyline points="473,1042.75 952,1043 1145,1131" fill="none" stroke="#1a1a1a" stroke-width="1.6"/>
<circle cx="1145" cy="1131" r="6.2" fill="#000"/>
<polyline points="2660,403 2021.5,403 1819,519.3" fill="none" stroke="#1a1a1a" stroke-width="1.6"/>
<circle cx="1819" cy="519.3" r="6.2" fill="#000"/>
<polyline points="2654,803.25 2176,803.25 1854.3,920" fill="none" stroke="#1a1a1a" stroke-width="1.6"/>
<circle cx="1854.3" cy="920" r="6.2" fill="#000"/>
<polyline points="2660,1305.25 2176.8,1305.25 1853.6,1195.6" fill="none" stroke="#1a1a1a" stroke-width="1.6"/>
<circle cx="1853.6" cy="1195.6" r="6.2" fill="#000"/>
</g>
<g id="labels">
<text x="153.6" y="249.3" font-size="82.9" font-weight="700" fill="#000">科德<tspan dx="2.8" font-size="88.5" textLength="202" lengthAdjust="spacingAndGlyphs">MOM</tspan><tspan dx="2">产品优势</tspan></text>
<text x="155.2" y="311.3" font-size="32.6" fill="#808080" textLength="349.5" lengthAdjust="spacingAndGlyphs">PRODUCT SUPERIORITY</text>
<line x1="156.5" y1="382.5" x2="207" y2="332" stroke="#000" stroke-width="2"/>
<circle cx="382.5" cy="546.75" r="86.4" fill="#fff" stroke="#83569a" stroke-width="4.8"/>
<text x="313.4" y="578" font-size="114.5" font-weight="700" fill="#83569a" letter-spacing="-11">20</text>
<text x="420.1" y="575.5" font-size="69" font-weight="700" fill="#83569a">+</text>
<circle cx="384" cy="1043.1" r="86.4" fill="#fff" stroke="#83569a" stroke-width="4.8"/>
<text x="314.1" y="1078.25" font-size="114.5" font-weight="700" fill="#83569a" letter-spacing="-11">22</text>
<text x="422.1" y="1075.9" font-size="69" font-weight="700" fill="#83569a">+</text>
<circle cx="2748.75" cy="399.5" r="86.4" fill="#fff" stroke="#83569a" stroke-width="4.8"/>
<text x="2675.2" y="435.7" font-size="114.5" font-weight="700" fill="#83569a" letter-spacing="-11">30</text>
<text x="2781.75" y="435.4" font-size="44" font-weight="400" fill="#83569a">%</text>
<circle cx="2743" cy="803.25" r="86.4" fill="#fff" stroke="#83569a" stroke-width="4.8"/>
<text x="2669" y="839.2" font-size="114.5" font-weight="700" fill="#83569a" letter-spacing="-11">30</text>
<text x="2776" y="838.9" font-size="44" font-weight="400" fill="#83569a">%</text>
<circle cx="2748.75" cy="1298.75" r="86.4" fill="#fff" stroke="#83569a" stroke-width="4.8"/>
<text x="2674.4" y="1335" font-size="114.5" font-weight="700" fill="#83569a" letter-spacing="-11">60</text>
<text x="2781.75" y="1334.5" font-size="44" font-weight="400" fill="#83569a">%</text>
<text x="488" y="634.3" font-size="54" font-weight="400" text-anchor="start" fill="#83569a">上线至今20多年</text>
<text x="488" y="1129.3" font-size="54" font-weight="400" text-anchor="start" fill="#83569a">管理产品22万</text>
<text x="2637.5" y="504.3" font-size="54" font-weight="400" text-anchor="end" fill="#83569a">交付周期缩短30%</text>
<text x="2637.5" y="903.8" font-size="54" font-weight="400" text-anchor="end" fill="#83569a">库存降低30%</text>
<text x="2637.5" y="1407.3" font-size="54" font-weight="400" text-anchor="end" fill="#83569a">生产效率提升60%</text>
<text x="489" y="717.50" font-size="37.4" font-weight="350" text-anchor="start" fill="#5c5c5c">版本更新超过3380次</text>
<text x="489" y="762.60" font-size="37.4" font-weight="350" text-anchor="start" fill="#5c5c5c">丰富的场景应用案例</text>
<text x="489" y="1212.30" font-size="37.4" font-weight="350" text-anchor="start" fill="#5c5c5c">管理庞大产品</text>
<text x="489" y="1257.40" font-size="37.4" font-weight="350" text-anchor="start" fill="#5c5c5c">数据，支持多品规个性化</text>
<text x="2638" y="588.50" font-size="37.4" font-weight="350" text-anchor="end" fill="#5c5c5c">灵活计划调整</text>
<text x="2638" y="633.60" font-size="37.4" font-weight="350" text-anchor="end" fill="#5c5c5c">实现客户订单快速交付</text>
<text x="2638" y="987.00" font-size="37.4" font-weight="350" text-anchor="end" fill="#5c5c5c">精细化货位管理</text>
<text x="2638" y="1032.10" font-size="37.4" font-weight="350" text-anchor="end" fill="#5c5c5c">推动式生产和配送</text>
<text x="2638" y="1077.20" font-size="37.4" font-weight="350" text-anchor="end" fill="#5c5c5c">降低过程库存</text>
<text x="2638" y="1490.50" font-size="37.4" font-weight="350" text-anchor="end" fill="#5c5c5c">工序产能可视化</text>
<text x="2638" y="1535.60" font-size="37.4" font-weight="350" text-anchor="end" fill="#5c5c5c">大幅提升生产效率</text>
</g>
</svg>
</body>
</html>
